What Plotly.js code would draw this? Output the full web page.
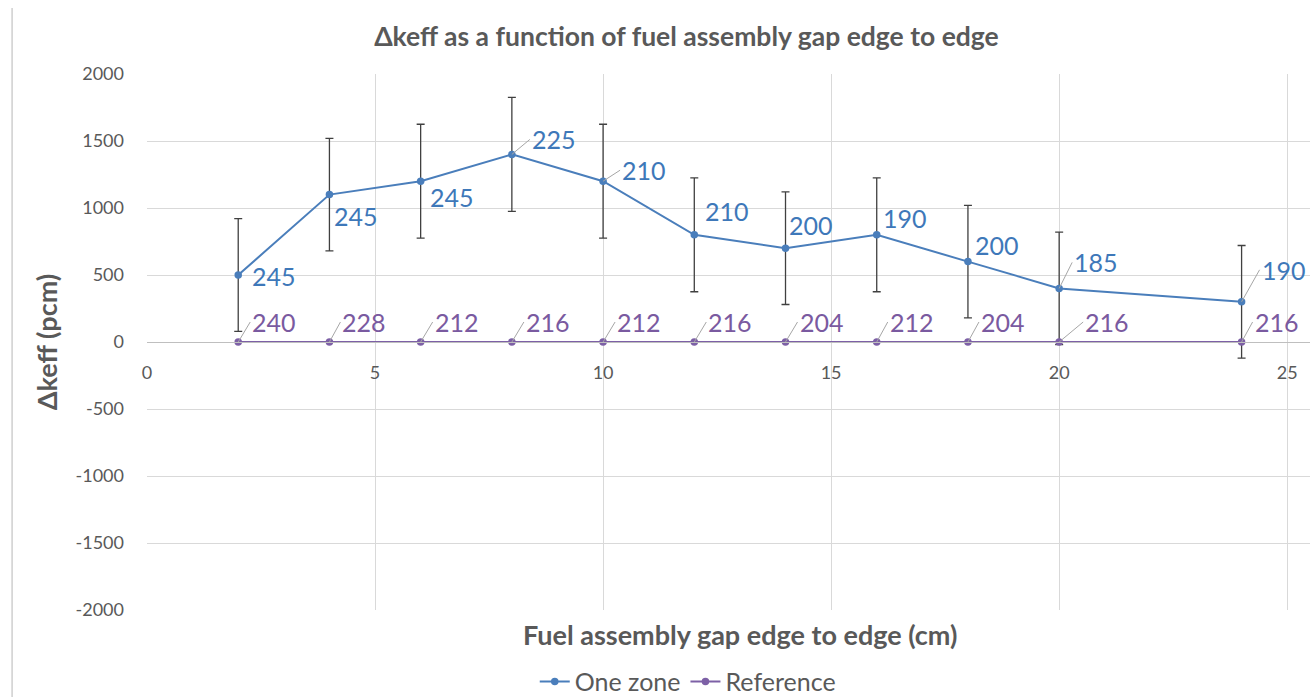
<!DOCTYPE html>
<html>
<head>
<meta charset="utf-8">
<script src="https://cdn.plot.ly/plotly-3.0.1.min.js"></script>
<style>
  html, body { margin: 0; padding: 0; background: #ffffff; }
  #chart { width: 1310px; height: 697px; }
</style>
</head>
<body>
<div id="chart"></div>
<script>
// ---- data ----
const gapCm = [2, 4, 6, 8, 10, 12, 14, 16, 18, 20, 24];
const oneZone = [500, 1100, 1200, 1400, 1200, 800, 700, 800, 600, 400, 300];
const oneZoneErr = [420, 420, 425, 425, 425, 425, 420, 425, 420, 420, 420];
const oneZoneLabels = ['245', '245', '245', '225', '210', '210', '200', '190', '200', '185', '190'];
const reference = [0, 0, 0, 0, 0, 0, 0, 0, 0, 0, 0];
const referenceLabels = ['240', '228', '212', '216', '212', '216', '204', '212', '204', '216', '216'];
const xTickVals = [0, 5, 10, 15, 20, 25];
const yTickVals = [-2000, -1500, -1000, -500, 0, 500, 1000, 1500, 2000];

// ---- style: label placement (pixel offsets of label left edge / vertical centre) ----
const oneZoneLabelDx = [12, 3, 7, 18, 17, 9, 1, 4, 5, 13, 18];
const oneZoneLabelDy = [1, 21, 16, -15, -11, -24, -23, -17, -17, -26, -32];
const oneZoneLeader = [false, false, false, true, true, false, false, false, false, true, true];
const refLabelDx = [12, 11, 12, 12, 12, 12, 12, 11, 11, 24, 11];
const refLabelDy = -20;

const FONT = 'Lato, "Open Sans", "DejaVu Sans", sans-serif';
const BLUE = '#4a7ebb';
const PURPLE = '#7d60a6';
const BLUE_TXT = '#3e78b9';
const PURPLE_TXT = '#7a5aa0';
const GRAY = '#595959';

const traces = [
  {
    x: gapCm, y: oneZone, name: 'One zone', type: 'scatter', mode: 'lines+markers',
    line: { color: BLUE, width: 2 },
    marker: { color: BLUE, size: 7.5 },
    error_y: { type: 'data', array: oneZoneErr, visible: true, color: '#404040', thickness: 1.3, width: 4 }
  },
  {
    x: gapCm, y: reference, name: 'Reference', type: 'scatter', mode: 'lines+markers',
    line: { color: PURPLE, width: 2 },
    marker: { color: PURPLE, size: 7.5 }
  }
];

const annotations = [];
gapCm.forEach((xv, i) => {
  const base = {
    x: xv, y: oneZone[i], xref: 'x', yref: 'y', text: oneZoneLabels[i],
    font: { family: FONT, size: 25, color: BLUE_TXT },
    xanchor: 'left', yanchor: 'middle'
  };
  if (oneZoneLeader[i]) {
    Object.assign(base, { showarrow: true, arrowhead: 0, arrowwidth: 1, arrowcolor: '#a6a6a6',
      ax: oneZoneLabelDx[i], ay: oneZoneLabelDy[i], standoff: 0 });
  } else {
    Object.assign(base, { showarrow: false, xshift: oneZoneLabelDx[i], yshift: -oneZoneLabelDy[i] });
  }
  annotations.push(base);
});
gapCm.forEach((xv, i) => {
  annotations.push({
    x: xv, y: reference[i], xref: 'x', yref: 'y', text: referenceLabels[i],
    font: { family: FONT, size: 25, color: PURPLE_TXT },
    xanchor: 'left', yanchor: 'middle',
    showarrow: true, arrowhead: 0, arrowwidth: 1, arrowcolor: '#a6a6a6',
    ax: refLabelDx[i], ay: refLabelDy, standoff: 0
  });
});
// x-axis title (placed at the bottom, as the x axis itself crosses at y = 0)
annotations.push({
  xref: 'paper', yref: 'paper', x: 0.51, y: 0, yanchor: 'top', yshift: -6,
  showarrow: false, text: '<b>Fuel assembly gap edge to edge (cm)</b>',
  font: { family: FONT, size: 27, color: GRAY }
});

const layout = {
  width: 1310, height: 697,
  paper_bgcolor: '#ffffff', plot_bgcolor: '#ffffff',
  margin: { l: 147, r: 0, t: 74, b: 87 },
  font: { family: FONT, color: GRAY },
  title: {
    text: '<b>Δkeff as a function of fuel assembly gap edge to edge</b>',
    font: { family: FONT, size: 26.5, color: GRAY },
    x: 0.524, xref: 'container', xanchor: 'center',
    y: 0.947, yref: 'container', yanchor: 'middle'
  },
  xaxis: {
    range: [0, 25.5], tickvals: xTickVals, ticktext: xTickVals.map(String),
    anchor: 'free', position: 0.5,
    showgrid: true, gridcolor: '#d9d9d9', gridwidth: 1,
    zeroline: false, showline: true, linecolor: '#bfbfbf', linewidth: 1,
    ticks: '', ticklabelstandoff: 14,
    tickfont: { family: FONT, size: 18, color: GRAY }
  },
  yaxis: {
    range: [-2000, 2000], tickvals: yTickVals, ticktext: yTickVals.map(String),
    showgrid: true, gridcolor: '#d9d9d9', gridwidth: 1,
    zeroline: true, zerolinecolor: '#bfbfbf', zerolinewidth: 1,
    showline: false, ticks: '', ticklabelstandoff: 22,
    tickfont: { family: FONT, size: 18, color: GRAY },
    title: { text: '<b>Δkeff (pcm)</b>', font: { family: FONT, size: 27, color: GRAY }, standoff: 10 }
  },
  showlegend: true,
  legend: {
    orientation: 'h', xref: 'container', yref: 'container',
    x: 0.525, xanchor: 'center', y: 0.022, yanchor: 'middle',
    font: { family: FONT, size: 25, color: GRAY },
    itemwidth: 30, tracegroupgap: 0
  },
  shapes: [
    { type: 'line', xref: 'paper', yref: 'paper', x0: -0.116, x1: -0.116, y0: -0.17, y1: 1.123,
      line: { color: '#cfcfcf', width: 1.5 } }
  ],
  annotations: annotations
};

Plotly.newPlot('chart', traces, layout, { displayModeBar: false, staticPlot: true });
</script>
</body>
</html>
